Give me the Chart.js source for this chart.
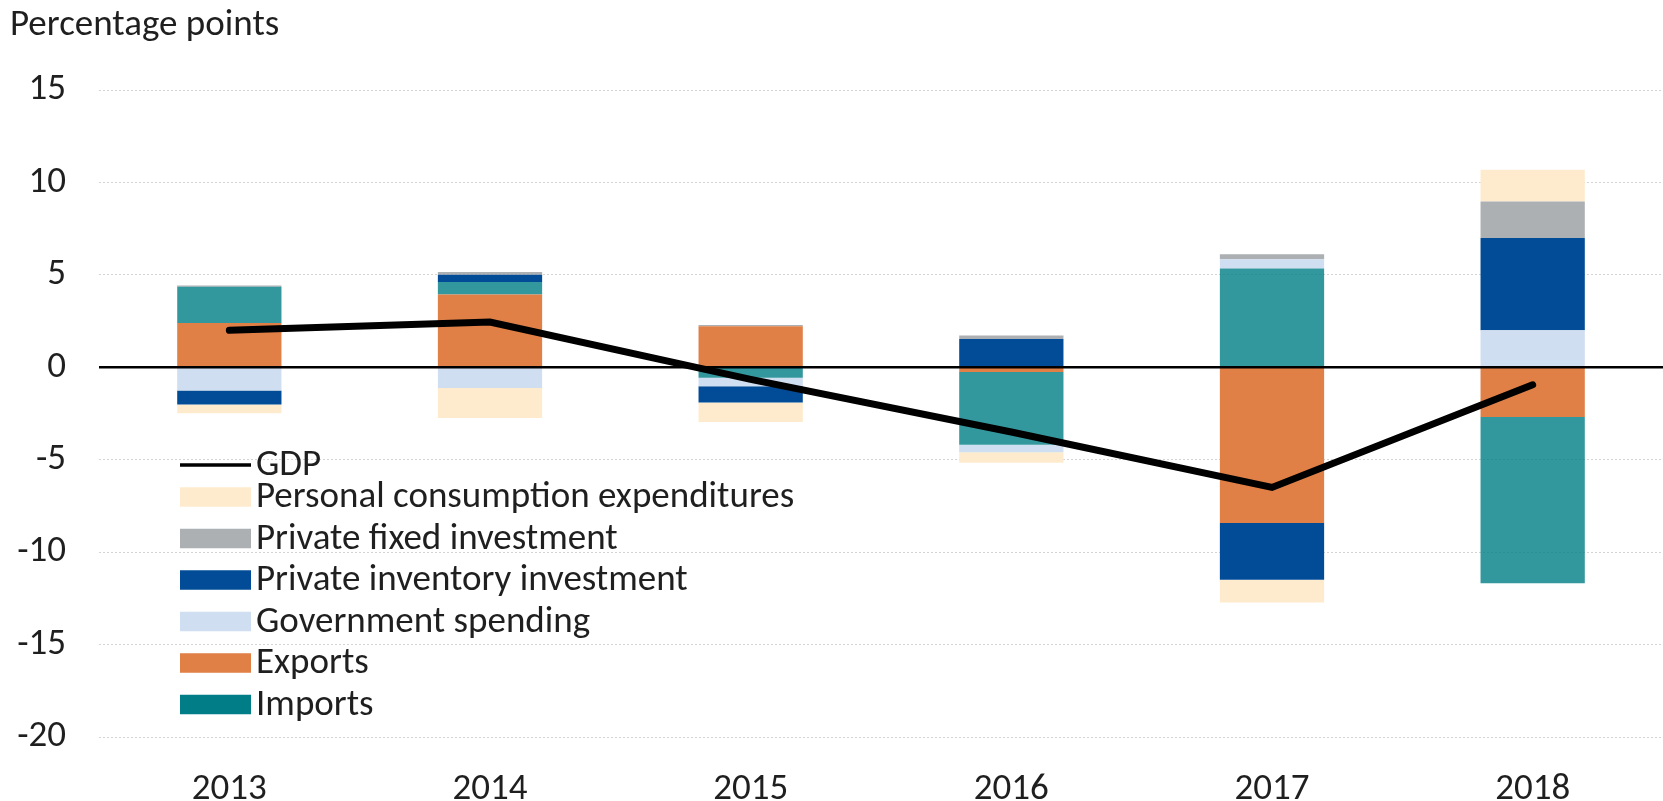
<!DOCTYPE html>
<html>
<head>
<meta charset="utf-8">
<script src="https://cdn.jsdelivr.net/npm/chart.js@4/dist/chart.umd.min.js"></script>
<style>
  html, body { margin: 0; padding: 0; background: #fff; }
  #wrap { width: 1663px; height: 801px; }
</style>
</head>
<body>
<div id="wrap"><canvas id="gdpChart"></canvas></div>
<script>
// contributions to growth, percentage points
var years = ['2013', '2014', '2015', '2016', '2017', '2018'];
var exportsPts = [2.4, 3.94, 2.22, -0.25, -8.42, -2.69];
var importsPts = [1.95, 0.67, -0.56, -3.94, 5.35, -8.99];
var governmentPts = [-1.25, -1.12, -0.47, -0.4, 0.5, 2.0];
var inventoryPts = [-0.76, 0.4, -0.88, 1.53, -3.08, 5.0];
var fixedInvPts = [0.07, 0.15, 0.07, 0.19, 0.27, 1.97];
var consumptionPts = [-0.47, -1.63, -1.05, -0.57, -1.23, 1.72];
var gdpPts = [2.0, 2.45, -0.65, -3.5, -6.5, -0.95];
var yTicks = [15, 10, 5, 0, -5, -10, -15, -20];

var FONT = 'Carlito, Calibri, Lato, sans-serif';
var TEXT = '#1f1f1f';

// order in the legend (top to bottom)
var legendOrder = ['GDP', 'Personal consumption expenditures', 'Private fixed investment',
  'Private inventory investment', 'Government spending', 'Exports', 'Imports'];

// black line at zero, drawn over the bars but under the GDP line
var zeroLine = {
  id: 'zeroLine',
  beforeDatasetDraw: function(chart, args) {
    if (args.index !== 0) return;
    var y = chart.scales.y.getPixelForValue(0);
    var ctx = chart.ctx;
    ctx.save();
    ctx.strokeStyle = '#000';
    ctx.lineWidth = 2.5;
    ctx.beginPath();
    ctx.moveTo(chart.chartArea.left, y);
    ctx.lineTo(chart.chartArea.right, y);
    ctx.stroke();
    ctx.restore();
  }
};

// legend sitting inside the plot, lower left
var insideLegend = {
  id: 'insideLegend',
  afterDraw: function(chart) {
    var ctx = chart.ctx;
    var area = chart.chartArea;
    var boxX = area.left + 81, boxW = 71, boxH = 19.5;
    var textX = area.left + 157;
    ctx.save();
    ctx.font = '37px ' + FONT;
    ctx.textBaseline = 'middle';
    ctx.textAlign = 'left';
    legendOrder.forEach(function(name, i) {
      var ds = chart.data.datasets.find(function(d) { return d.label === name; });
      var y = i === 0 ? area.top + 375 : area.top + 407 + (i - 1) * 41.5;
      if (ds.type === 'line') {
        ctx.strokeStyle = ds.borderColor;
        ctx.lineWidth = 3.5;
        ctx.beginPath();
        ctx.moveTo(boxX, y);
        ctx.lineTo(boxX + boxW, y);
        ctx.stroke();
      } else {
        ctx.fillStyle = ds.legendColor || ds.backgroundColor;
        ctx.fillRect(boxX, y - boxH / 2, boxW, boxH);
      }
      ctx.fillStyle = TEXT;
      ctx.fillText(name, textX, y + 1);
    });
    ctx.restore();
  }
};

function bar(label, values, color, legendColor) {
  return {
    type: 'bar',
    label: label,
    data: values,
    backgroundColor: color,
    legendColor: legendColor,
    borderWidth: 0,
    barPercentage: 0.4,
    categoryPercentage: 1.0
  };
}

var ctx = document.getElementById('gdpChart');
var gdpChart = new Chart(ctx, {
  data: {
    labels: years,
    datasets: [
      {
        type: 'line',
        label: 'GDP',
        data: gdpPts,
        borderColor: '#000',
        borderWidth: 7,
        borderCapStyle: 'round',
        pointRadius: 0,
        tension: 0,
        fill: false
      },
      // stacking order, nearest zero first
      bar('Exports', exportsPts, '#E07F46'),
      bar('Imports', importsPts, 'rgba(0,125,134,0.8)', '#007D86'),
      bar('Government spending', governmentPts, '#CFDEF0'),
      bar('Private inventory investment', inventoryPts, '#024C97'),
      bar('Private fixed investment', fixedInvPts, '#ADB0B2'),
      bar('Personal consumption expenditures', consumptionPts, '#FEEBCD')
    ]
  },
  options: {
    responsive: true,
    maintainAspectRatio: false,
    animation: false,
    layout: { padding: { left: 10, right: 0, top: 0, bottom: 0 } },
    plugins: {
      legend: { display: false },
      tooltip: { enabled: false },
      title: {
        display: true,
        text: 'Percentage points',
        align: 'start',
        color: TEXT,
        font: { family: FONT, size: 37, weight: 'normal' },
        padding: { top: 4, bottom: 41.6 }
      }
    },
    scales: {
      x: {
        stacked: true,
        grid: { display: false },
        border: { display: false },
        ticks: { color: TEXT, font: { family: FONT, size: 37 }, padding: 23, maxRotation: 0 },
        afterFit: function(scale) { scale.height = 64; }
      },
      y: {
        stacked: true,
        min: -20,
        max: 15,
        afterBuildTicks: function(scale) {
          scale.ticks = yTicks.map(function(v) { return { value: v }; });
        },
        grid: {
          drawTicks: false,
          lineWidth: 1,
          color: function(c) { return c.tick && c.tick.value === 0 ? 'rgba(0,0,0,0)' : '#d4d4d4'; }
        },
        border: { display: false, dash: [2, 2] },
        ticks: { color: TEXT, font: { family: FONT, size: 37 }, padding: 33 },
        afterFit: function(scale) { scale.width = 89; }
      }
    }
  },
  plugins: [zeroLine, insideLegend]
});
</script>
</body>
</html>
